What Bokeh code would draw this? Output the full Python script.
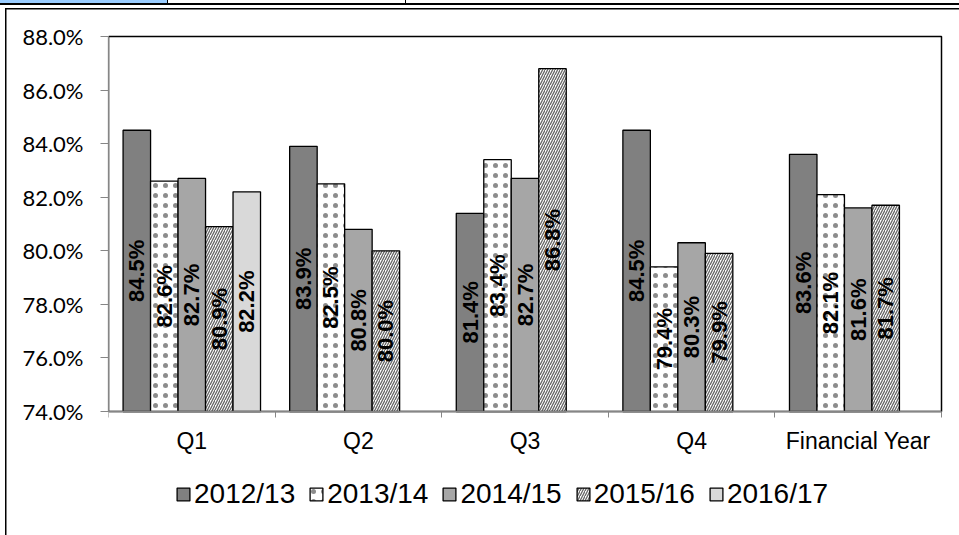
import math
from bokeh.plotting import figure
from bokeh.models import (Range1d, FixedTicker, PrintfTickFormatter, Legend, LegendItem,
                          ColumnDataSource, BoxAnnotation)
from bokeh.core.properties import value
from bokeh.embed import file_html
from bokeh.resources import INLINE

categories = ["Q1", "Q2", "Q3", "Q4", "Financial Year"]
series_names = ["2012/13", "2013/14", "2014/15", "2015/16", "2016/17"]
v_2012_13 = [84.5, 83.9, 81.4, 84.5, 83.6]
v_2013_14 = [82.6, 82.5, 83.4, 79.4, 82.1]
v_2014_15 = [82.7, 80.8, 82.7, 80.3, 81.6]
v_2015_16 = [80.9, 80.0, 86.8, 79.9, 81.7]
v_2016_17 = [82.2]
y_ticks = [74, 76, 78, 80, 82, 84, 86, 88]
series_values = [v_2012_13, v_2013_14, v_2014_15, v_2015_16, v_2016_17]

Y_MIN, Y_MAX = 74, 88
SLOT = 0.165
N = len(categories)

# layout in pixels: plot area 36..411 vertically, 108..941 horizontally; the frame is
# extended down to the canvas bottom (so the legend is not clipped) and by 2px
# up/right (so the plot-area border is not half clipped)
PLOT_TOP, PLOT_BOTTOM, CANVAS_H = 36, 411, 535
PLOT_LEFT, PLOT_RIGHT, CANVAS_W = 108, 941, 959
PAD = 2
y_per_px = (Y_MAX - Y_MIN) / (PLOT_BOTTOM - PLOT_TOP)
x_per_px = N / (PLOT_RIGHT - PLOT_LEFT)
Y_LOW = Y_MIN - (CANVAS_H - PLOT_BOTTOM) * y_per_px
Y_HIGH = Y_MAX + PAD * y_per_px
X_HIGH = N + PAD * x_per_px

styles = [
    dict(fill_color="#808080"),
    dict(fill_color="#ffffff", hatch_pattern="dot", hatch_color="#8c8c8c", hatch_scale=10, hatch_weight=0.5),
    dict(fill_color="#a6a6a6"),
    dict(fill_color="#ffffff", hatch_pattern="right_diagonal_line", hatch_color="#666666", hatch_scale=5, hatch_weight=1.3),
    dict(fill_color="#d9d9d9"),
]

# decorative frame lines of the surrounding document (CSS backgrounds, no text)
bg_layers = [
    ("#99ccff", "167px 4px", "0 0"),
    ("#000000", "959px 2px", "0 3px"),
    ("#000000", "1px 4px", "167px 0"),
    ("#000000", "1px 4px", "405px 0"),
    ("#000000", "954px 1.5px", "5px 8px"),
    ("#000000", "1.5px 527px", "5px 8px"),
]
css = {
    "background-image": ", ".join("linear-gradient(%s,%s)" % (c, c) for c, _, _ in reversed(bg_layers)),
    "background-size": ", ".join(s for _, s, _ in reversed(bg_layers)),
    "background-position": ", ".join(q for _, _, q in reversed(bg_layers)),
    "background-repeat": "no-repeat",
    "background-color": "#ffffff",
}

p = figure(width=CANVAS_W, height=CANVAS_H, output_backend="svg", toolbar_location=None,
           x_range=Range1d(0, X_HIGH), y_range=Range1d(Y_LOW, Y_HIGH),
           min_border_left=PLOT_LEFT, min_border_right=CANVAS_W - PLOT_RIGHT - PAD,
           min_border_top=PLOT_TOP - PAD, min_border_bottom=0,
           styles=css)
p.xgrid.visible = False
p.ygrid.visible = False
p.outline_line_color = None
p.background_fill_color = "#ffffff"
p.border_fill_alpha = 0

# plot-area border (top/right black; left/bottom covered by the grey axes)
p.add_layout(BoxAnnotation(left=0, right=N, bottom=Y_MIN, top=Y_MAX,
                           fill_alpha=0, line_color="#000000", line_alpha=1.0,
                           line_width=1.5, level="underlay"))

items = []
for j, (name, vals) in enumerate(zip(series_names, series_values)):
    xs = [i + 0.5 + (j - 2) * SLOT for i in range(len(vals))]
    src = ColumnDataSource(dict(
        x=xs, top=vals, mid=[(Y_MIN + v) / 2 for v in vals],
        label=["%.1f%%" % v for v in vals]))
    r = p.vbar(x="x", top="top", bottom=Y_MIN, width=SLOT, source=src,
               line_color="#000000", line_width=1.3, **styles[j])
    p.text(x="x", y="mid", text="label", source=src, angle=math.pi / 2,
           text_align="center", text_baseline="middle",
           text_font=value("Liberation Sans"), text_font_style="bold",
           text_font_size="22px", text_color="#000000")
    items.append(LegendItem(label=name, renderers=[r]))

# y axis
ya = p.yaxis[0]
ya.ticker = FixedTicker(ticks=y_ticks)
ya.bounds = (Y_MIN, Y_MAX)
ya.formatter = PrintfTickFormatter(format="%.1f%%")
ya.axis_line_color = "#868686"
ya.axis_line_width = 1.3
ya.major_tick_line_color = "#868686"
ya.major_tick_in = 0
ya.major_tick_out = 8
ya.minor_tick_line_color = None
ya.major_label_standoff = 17
ya.major_label_text_font = "Lato"
ya.major_label_text_font_size = "22px"
ya.major_label_text_color = "#000000"

# x axis, drawn at the 74% baseline
xa = p.xaxis[0]
xa.fixed_location = Y_MIN
xa.bounds = (0, N)
xa.ticker = FixedTicker(ticks=[i + 0.5 for i in range(N)],
                        minor_ticks=list(range(N + 1)))
xa.major_label_overrides = {i + 0.5: c for i, c in enumerate(categories)}
xa.axis_line_color = "#868686"
xa.axis_line_width = 1.3
xa.major_tick_line_color = None
xa.minor_tick_line_color = "#868686"
xa.minor_tick_in = 0
xa.minor_tick_out = 6
xa.major_label_standoff = 10
xa.major_label_text_font = "Liberation Sans"
xa.major_label_text_font_size = "23px"
xa.major_label_text_color = "#000000"

legend = Legend(items=items, orientation="horizontal", location=(67, 25),
                glyph_width=16, glyph_height=16, label_standoff=3, spacing=13,
                padding=0, margin=0, border_line_alpha=0, background_fill_alpha=0,
                label_text_font="Liberation Sans", label_text_font_size="28px",
                label_text_color="#000000")
p.add_layout(legend, "center")

open("out.html", "w").write(file_html(p, INLINE))
